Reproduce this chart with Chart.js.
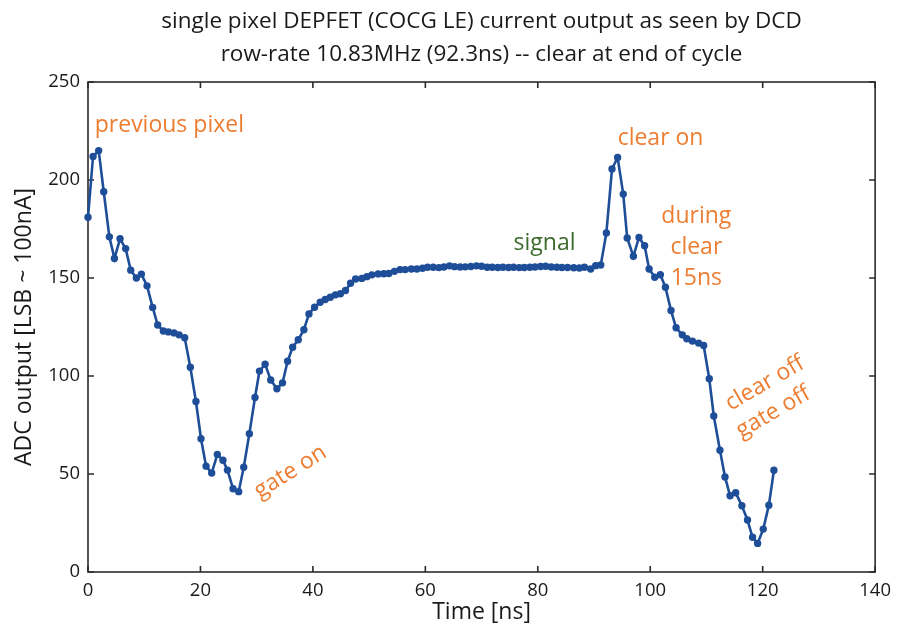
<!DOCTYPE html>
<html>
<head>
<meta charset="utf-8">
<script src="https://cdn.jsdelivr.net/npm/chart.js@4/dist/chart.umd.min.js"></script>
<style>
  html, body { margin: 0; padding: 0; background: #fff; }
  #wrap { width: 899px; height: 628px; }
</style>
</head>
<body>
<div id="wrap"><canvas id="adcChart" width="899" height="628"></canvas></div>
<script>
// sample times (ns)
const timeNs = [
  0.0, 0.9, 1.9, 2.8, 3.8, 4.7, 5.7, 6.7, 7.6, 8.6,
  9.5, 10.5, 11.5, 12.4, 13.4, 14.3, 15.3, 16.2, 17.2, 18.2,
  19.2, 20.1, 21.0, 22.0, 23.0, 24.0, 24.8, 25.8, 26.8, 27.7,
  28.7, 29.7, 30.5, 31.5, 32.5, 33.6, 34.6, 35.5, 36.4, 37.4,
  38.4, 39.3, 40.3, 41.3, 42.2, 43.1, 44.0, 44.9, 45.8, 46.7,
  47.6, 48.7, 49.6, 50.5, 51.6, 52.6, 53.5, 54.5, 55.5, 56.4,
  57.5, 58.5, 59.5, 60.4, 61.4, 62.4, 63.3, 64.3, 65.2, 66.2,
  67.1, 68.1, 69.1, 70.0, 71.0, 71.9, 72.9, 73.8, 74.8, 75.7,
  76.7, 77.6, 78.6, 79.5, 80.5, 81.4, 82.4, 83.4, 84.3, 85.3,
  86.4, 87.4, 88.3, 89.4, 90.3, 91.2, 92.2, 93.2, 94.2, 95.2,
  95.9, 97.0, 98.0, 99.0, 99.8, 100.8, 101.8, 102.7, 103.7, 104.6,
  105.7, 106.5, 107.5, 108.6, 109.5, 110.5, 111.3, 112.4, 113.3, 114.2,
  115.2, 116.3, 117.3, 118.2, 119.1, 120.1, 121.1, 122.0
];

// ADC output [LSB ~ 100nA]
const adcOutput = [
  181, 212, 215, 194, 171, 160, 170, 165, 154, 150,
  152, 146, 135, 126, 123, 122.5, 122, 121, 119.5, 104.5,
  87, 68, 54, 50.5, 60, 57, 52, 42.5, 41, 53.5,
  70.5, 89, 102.5, 106, 98, 93.5, 96.5, 107.5, 114.7, 118.5,
  123.6, 131.7, 135.1, 137.6, 139, 140.2, 141.4, 142, 143.6, 147.3,
  149.5, 149.8, 150.7, 151.6, 152.1, 152.2, 152.3, 153.4, 154.3, 154.3,
  154.6, 154.6, 155, 155.5, 155.5, 155.3, 155.6, 156.2, 155.8, 155.6,
  155.7, 155.9, 156.2, 156, 155.5, 155.5, 155.4, 155.5, 155.4, 155.5,
  155.3, 155.4, 155.5, 155.6, 155.9, 156, 155.6, 155.5, 155.4, 155.4,
  155.2, 155.1, 155.5, 154.6, 156.3, 156.6, 173, 205.6, 211.5, 192.8,
  170.4, 161.1, 170.7, 166.5, 154.6, 150.4, 151.7, 145.3, 133.4, 124.6,
  121, 119, 117.8, 116.8, 115.6, 98.6, 79.6, 62.1, 48.5, 38.9,
  40.4, 33.8, 26.5, 17.7, 14.6, 21.9, 34.1, 51.9
];

const xTicks = [0, 20, 40, 60, 80, 100, 120, 140];
const yTicks = [0, 50, 100, 150, 200, 250];

const titleLines = [
  'single pixel DEPFET (COCG LE) current output as seen by DCD',
  'row-rate 10.83MHz (92.3ns) -- clear at end of cycle'
];

// notes: text, time, adc value, colour, rotation (deg), alignment
const noteText  = ['previous pixel', 'clear on', 'during', 'clear', '15ns', 'signal', 'gate on', 'clear off', 'gate off'];
const noteTime  = [1.2, 94.2, 108.2, 108.2, 108.2, 81.2, 36.0, 120.4, 121.9];
const noteValue = [228, 221, 181.3, 165.5, 149.7, 167.5, 51.1, 96.2, 81.5];
const noteColor = ['#ED7D31', '#ED7D31', '#ED7D31', '#ED7D31', '#ED7D31', '#3D6B2C', '#ED7D31', '#ED7D31', '#ED7D31'];
const noteAngle = [0, 0, 0, 0, 0, 0, -32, -30, -30];
const noteAlign = ['left', 'left', 'center', 'center', 'center', 'center', 'center', 'center', 'center'];

const FONT = "'Open Sans', 'DejaVu Sans', sans-serif";

// box round the plot with inward ticks on all four sides
const frameTicks = {
  id: 'frameTicks',
  beforeDatasetsDraw(chart) {
    const { ctx, chartArea: a, scales: { x, y } } = chart;
    ctx.save();
    ctx.strokeStyle = '#2b2b2b';
    ctx.lineWidth = 1.6;
    ctx.strokeRect(a.left, a.top, a.right - a.left, a.bottom - a.top);
    ctx.beginPath();
    xTicks.forEach(v => {
      const px = x.getPixelForValue(v);
      ctx.moveTo(px, a.bottom); ctx.lineTo(px, a.bottom - 6);
      ctx.moveTo(px, a.top); ctx.lineTo(px, a.top + 6);
    });
    yTicks.forEach(v => {
      const py = y.getPixelForValue(v);
      ctx.moveTo(a.left, py); ctx.lineTo(a.left + 6, py);
      ctx.moveTo(a.right, py); ctx.lineTo(a.right - 6, py);
    });
    ctx.stroke();
    ctx.restore();
  }
};

const notes = {
  id: 'notes',
  afterDatasetsDraw(chart) {
    const { ctx, scales: { x, y } } = chart;
    ctx.save();
    ctx.font = '23px ' + FONT;
    ctx.textBaseline = 'middle';
    noteText.forEach((txt, i) => {
      ctx.save();
      ctx.translate(x.getPixelForValue(noteTime[i]), y.getPixelForValue(noteValue[i]));
      ctx.rotate(noteAngle[i] * Math.PI / 180);
      ctx.fillStyle = noteColor[i];
      ctx.textAlign = noteAlign[i];
      ctx.fillText(txt, 0, 0);
      ctx.restore();
    });
    ctx.restore();
  }
};

const points = timeNs.map((t, i) => ({ x: t, y: adcOutput[i] }));

new Chart(document.getElementById('adcChart'), {
  type: 'line',
  data: {
    datasets: [{
      data: points,
      borderColor: '#1F4E99',
      backgroundColor: '#1F4E99',
      borderWidth: 2.6,
      pointRadius: 2.4,
      pointHoverRadius: 2.4,
      tension: 0,
      clip: 6
    }]
  },
  options: {
    responsive: false,
    animation: false,
    events: [],
    layout: { padding: { top: 0, right: 20, bottom: 0, left: 0 } },
    plugins: {
      legend: { display: false },
      tooltip: { enabled: false },
      title: {
        display: true,
        fullSize: false,
        text: titleLines,
        color: '#1a1a1a',
        font: { family: FONT, size: 22.5, weight: 'normal', lineHeight: 1.467 },
        padding: { top: 5, bottom: 11 }
      }
    },
    scales: {
      x: {
        type: 'linear',
        min: xTicks[0],
        max: xTicks[xTicks.length - 1],
        afterFit: s => { s.height = 56; },
        afterBuildTicks: s => { s.ticks = xTicks.map(v => ({ value: v })); },
        grid: { display: false, drawTicks: false },
        border: { display: false },
        ticks: { color: '#1a1a1a', font: { family: FONT, size: 18.5 }, padding: 8, maxRotation: 0 },
        title: {
          display: true,
          text: 'Time [ns]',
          color: '#1a1a1a',
          font: { family: FONT, size: 23, lineHeight: 1.2 },
          padding: { top: 0, bottom: 2 }
        }
      },
      y: {
        min: yTicks[0],
        max: yTicks[yTicks.length - 1],
        afterFit: s => { s.width = 88; },
        afterBuildTicks: s => { s.ticks = yTicks.map(v => ({ value: v })); },
        grid: { display: false, drawTicks: false },
        border: { display: false },
        ticks: { color: '#1a1a1a', font: { family: FONT, size: 18.5 }, padding: 8 },
        title: {
          display: true,
          text: 'ADC output [LSB ~ 100nA]',
          color: '#1a1a1a',
          font: { family: FONT, size: 23, lineHeight: 1.2 },
          padding: { top: 11, bottom: 0 }
        }
      }
    }
  },
  plugins: [frameTicks, notes]
});
</script>
</body>
</html>
